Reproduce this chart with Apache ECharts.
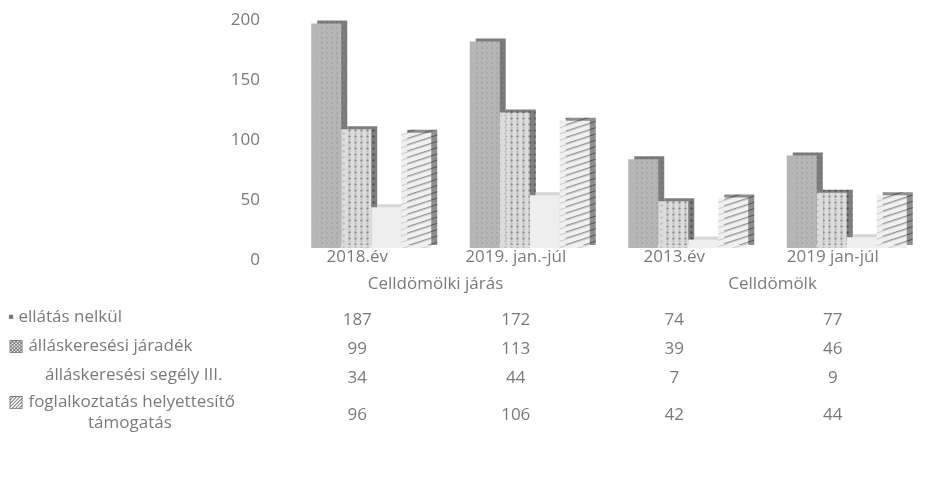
<!DOCTYPE html>
<html>
<head>
<meta charset="utf-8">
<script src="https://cdn.jsdelivr.net/npm/echarts@6/dist/echarts.min.js"></script>
<style>
  html, body { margin: 0; padding: 0; background: #ffffff; }
  #chart { width: 926px; height: 495px; }
</style>
</head>
<body>
<div id="chart"></div>
<script>
// ---- data ----
const categories = ['2018.év', '2019. jan.-júl', '2013.év', '2019 jan-júl'];
const groups = ['Celldömölki járás', 'Celldömölk'];
const seriesNames = ['ellátás nelkül', 'álláskeresési járadék', 'álláskeresési segély III.', 'foglalkoztatás helyettesítő támogatás'];
const ellatasNelkul = [187, 172, 74, 77];
const allaskeresesiJaradek = [99, 113, 39, 46];
const allaskeresesiSegely = [34, 44, 7, 9];
const foglalkoztatasHelyettesito = [96, 106, 42, 44];
const yTicks = [0, 50, 100, 150, 200];

const rows = [ellatasNelkul, allaskeresesiJaradek, allaskeresesiSegely, foglalkoztatasHelyettesito];

// ---- style ----
const FONT = 'Open Sans';
const TXT = '#7a7a7a';
const FS = 17;
const fronts = ['#b6b6b6', '#dcdcdc', '#eeeeee', '#f0f0f0'];
const sides = ['#7c7c7c', '#7e7e7e', '#d6d6d6', '#8e8e8e'];
const decals = [
  { symbol: 'rect', symbolSize: 0.6, dashArrayX: [2, 3], dashArrayY: [2, 3], color: 'rgba(150,150,150,0.25)' },
  { symbol: 'circle', symbolSize: 0.8, dashArrayX: [3, 3], dashArrayY: [3, 3], color: 'rgba(140,140,140,0.35)' },
  null,
  { symbol: 'rect', symbolSize: 1, rotation: -Math.PI / 10, dashArrayX: [1, 0], dashArrayY: [1, 5], color: 'rgba(150,150,150,0.4)' }
];

const chart = echarts.init(document.getElementById('chart'), null, { renderer: 'canvas' });

const gridBottom = 247;
const labelShift = [0, 28, 0, 0];

function tableAxis(data, offset, extra) {
  const ax = {
    type: 'category',
    gridIndex: 0,
    position: 'bottom',
    data: data,
    offset: offset,
    axisLine: { show: false },
    axisTick: { show: false },
    splitLine: { show: false },
    axisLabel: {
      show: true,
      interval: 0,
      margin: 0,
      color: TXT,
      fontFamily: FONT,
      fontSize: FS,
      padding: labelShift
    }
  };
  if (extra) Object.assign(ax.axisLabel, extra);
  return ax;
}

const xAxes = [
  tableAxis(categories, 1),
  tableAxis(groups, 28, {
    padding: 0,
    formatter: (v, i) => (i === 0 ? '{a|' + v + '}' : '{b|' + v + '}'),
    rich: {
      a: { padding: [0, 30, 0, 0], color: TXT, fontFamily: FONT, fontSize: FS },
      b: { padding: [0, 0, 0, 10], color: TXT, fontFamily: FONT, fontSize: FS }
    }
  }),
  tableAxis(ellatasNelkul.map(String), 64),
  tableAxis(allaskeresesiJaradek.map(String), 93),
  tableAxis(allaskeresesiSegely.map(String), 122),
  tableAxis(foglalkoztatasHelyettesito.map(String), 159)
];

const series = rows.map((vals, i) => {
  const s = {
    name: seriesNames[i],
    type: 'bar',
    xAxisIndex: 0,
    yAxisIndex: 0,
    data: vals,
    barWidth: 30,
    barGap: '0%',
    silent: true,
    itemStyle: {
      color: fronts[i],
      shadowColor: sides[i],
      shadowBlur: 0,
      shadowOffsetX: 6,
      shadowOffsetY: -3
    }
  };
  if (decals[i]) s.itemStyle.decal = decals[i];
  return s;
});

const font = FS + 'px "' + FONT + '"';
const graphics = [
  { type: 'text', left: 8, top: 309, style: { text: '▪ ' + seriesNames[0], fill: TXT, font: font } },
  { type: 'text', left: 8, top: 338, style: { text: '▩ ' + seriesNames[1], fill: TXT, font: font } },
  { type: 'text', left: 45, top: 367, style: { text: seriesNames[2], fill: TXT, font: font } },
  { type: 'text', left: 8, top: 394, style: { text: '▨ foglalkoztatás helyettesítő', fill: TXT, font: font } },
  { type: 'text', left: 88, top: 415, style: { text: 'támogatás', fill: TXT, font: font } }
];

const option = {
  backgroundColor: '#ffffff',
  animation: false,
  grid: { left: 292, right: -28, top: 8, bottom: gridBottom, containLabel: false },
  xAxis: xAxes,
  yAxis: {
    type: 'value',
    min: 0,
    max: 200,
    interval: 50,
    axisLine: { show: false },
    axisTick: { show: false },
    splitLine: { show: false },
    axisLabel: {
      margin: 32,
      color: TXT,
      fontFamily: FONT,
      fontSize: FS,
      verticalAlign: 'top',
      padding: [4, 0, 0, 0],
      customValues: yTicks
    }
  },
  series: series,
  graphic: graphics
};

chart.setOption(option);
</script>
</body>
</html>
